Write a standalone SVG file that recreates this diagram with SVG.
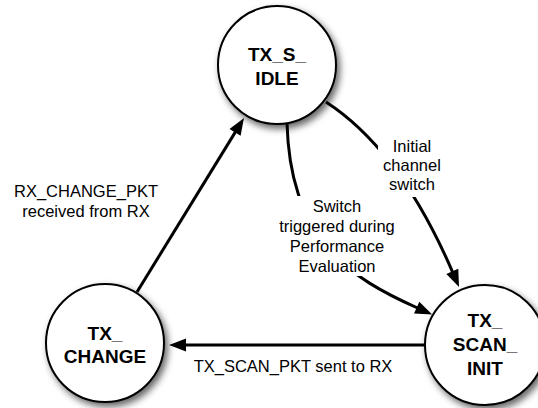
<svg xmlns="http://www.w3.org/2000/svg" width="538" height="408" viewBox="0 0 538 408">
<style>
.node circle{fill:#fff;stroke:#000;stroke-width:2;filter:url(#sh)}
.node text{font-family:"Liberation Sans",Arial,Helvetica,sans-serif;font-weight:bold;font-size:19px;text-anchor:middle;fill:#000}
.edge{fill:none;stroke:#000;stroke-width:3;marker-end:url(#ah)}
.lbl text{font-family:"Liberation Sans",Arial,Helvetica,sans-serif;font-size:16.5px;text-anchor:middle;fill:#000}
.bg{fill:#fff}
</style>
<defs>
<filter id="sh" x="-30%" y="-30%" width="160%" height="160%">
<feDropShadow dx="3" dy="4" stdDeviation="3.5" flood-color="#000" flood-opacity="0.6"/>
</filter>
<marker id="ah" markerUnits="userSpaceOnUse" markerWidth="18" markerHeight="14" refX="1" refY="6.5" orient="auto" overflow="visible">
<path d="M0,0 L17,6.5 L0,13 Z" fill="#000"/>
</marker>
</defs>
<g id="connectors">
<path class="edge" d="M137,292 L235.6,131.6"/>
<path class="edge" d="M425,345 L185,345"/>
<path class="edge" d="M326,102 Q400,150 452.7,272.3"/>
<path class="edge" d="M287,123 C290,240 350,278 417.6,308"/>
</g>
<g id="labels" class="lbl">
<rect class="bg" x="378" y="136" width="70" height="61"/>
<text x="412" y="152">Initial</text>
<text x="412" y="171">channel</text>
<text x="412" y="190">switch</text>
<rect class="bg" x="275" y="196" width="124" height="80"/>
<text x="337" y="212">Switch</text>
<text x="337" y="232">triggered during</text>
<text x="337" y="252">Performance</text>
<text x="337" y="272">Evaluation</text>
<text x="86" y="197">RX_CHANGE_PKT</text>
<text x="86" y="217">received from RX</text>
<text x="293" y="372">TX_SCAN_PKT sent to RX</text>
</g>
<g id="TX_S_IDLE" class="node">
<circle cx="277" cy="65" r="59"/>
<text x="277" y="61">TX_S_</text>
<text x="277" y="85">IDLE</text>
</g>
<g id="TX_CHANGE" class="node">
<circle cx="105" cy="343" r="59"/>
<text x="105" y="340">TX_</text>
<text x="105" y="363">CHANGE</text>
</g>
<g id="TX_SCAN_INIT" class="node">
<circle cx="485" cy="345" r="60"/>
<text x="485" y="327">TX_</text>
<text x="485" y="351">SCAN_</text>
<text x="485" y="375">INIT</text>
</g>
</svg>
